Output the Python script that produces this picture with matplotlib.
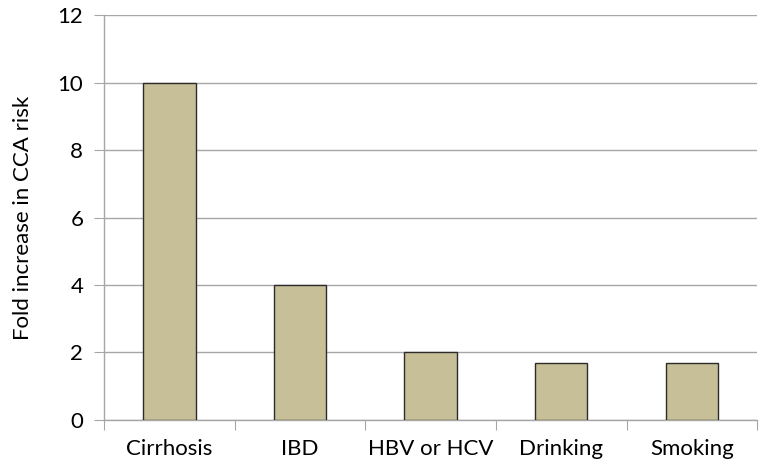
import matplotlib.pyplot as plt
import numpy as np

categories = ['Cirrhosis', 'IBD', 'HBV or HCV', 'Drinking', 'Smoking']
fold_increase = [10, 4, 2, 1.7, 1.7]
y_ticks = [0, 2, 4, 6, 8, 10, 12]

plt.rcParams['font.family'] = ['Lato', 'DejaVu Sans']

fig = plt.figure(figsize=(7.71, 4.74), dpi=100)
ax = fig.add_axes([0.135, 0.114, 0.847, 0.854])

x = np.arange(len(categories))
ax.bar(x, fold_increase, width=0.4, color='#c7bf97', edgecolor='#2b2b2b', linewidth=1.0, zorder=3)

ax.set_xlim(-0.5, len(categories) - 0.5)
ax.set_ylim(0, 12)
ax.set_yticks(y_ticks)
ax.yaxis.grid(True, color='#a6a6a6', linewidth=1.0, zorder=0)

# category boundary ticks on x axis, labels centered under bars
ax.set_xticks(np.arange(len(categories) + 1) - 0.5)
ax.set_xticklabels([])
ax.set_xticks(x, minor=True)
ax.set_xticklabels(categories, minor=True, fontsize=16)
ax.tick_params(axis='x', which='minor', length=0, pad=14)
ax.tick_params(axis='x', which='major', length=7, color='#a6a6a6', direction='out')
ax.tick_params(axis='y', length=7, color='#a6a6a6', labelsize=16, pad=8)

for side in ['top', 'right']:
    ax.spines[side].set_visible(False)
for side in ['left', 'bottom']:
    ax.spines[side].set_color('#a6a6a6')
    ax.spines[side].set_linewidth(1.0)

ax.set_ylabel('Fold increase in CCA risk', fontsize=16, labelpad=18)

plt.savefig('out.png', dpi=100)
plt.close()
